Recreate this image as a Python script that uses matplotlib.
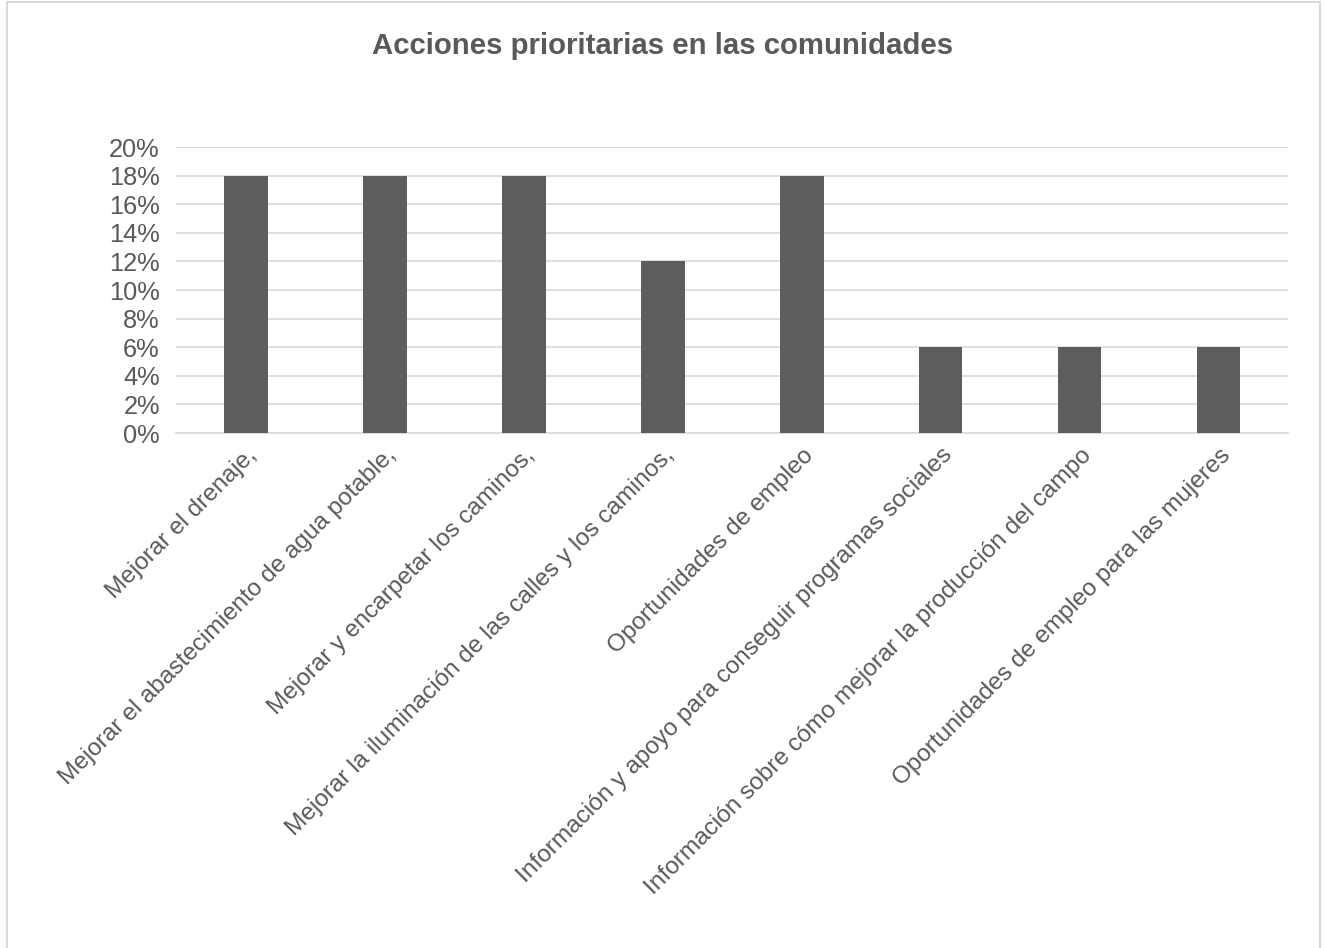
import matplotlib
matplotlib.use("Agg")
import matplotlib.pyplot as pyplot
from matplotlib.ticker import PercentFormatter
from matplotlib.lines import Line2D

categories = [
    "Mejorar el drenaje,",
    "Mejorar el abastecimiento de agua potable,",
    "Mejorar y encarpetar los caminos,",
    "Mejorar la iluminación de las calles y los caminos,",
    "Oportunidades de empleo",
    "Información y apoyo para conseguir programas sociales",
    "Información sobre cómo mejorar la producción del campo",
    "Oportunidades de empleo para las mujeres",
]
values = [0.18, 0.18, 0.18, 0.12, 0.18, 0.06, 0.06, 0.06]
yticks = [0.00, 0.02, 0.04, 0.06, 0.08, 0.10, 0.12, 0.14, 0.16, 0.18, 0.20]

text_color = "#595959"
pyplot.rcParams["font.family"] = ["Liberation Sans", "DejaVu Sans"]

fig = pyplot.figure(figsize=(13.25, 9.48), dpi=100)
ax = fig.add_axes([0.1332, 0.5432, 0.8392, 0.3017])

x = list(range(len(categories)))
ax.bar(x, values, width=0.31, color="#5d5d5d", zorder=3)

ax.set_xlim(-0.5, len(categories) - 0.5)
ax.set_ylim(0, 0.20)
ax.set_yticks(yticks)
ax.yaxis.set_major_formatter(PercentFormatter(xmax=1, decimals=0))
ax.grid(True, axis="y", color="#d9d9d9", linewidth=1.2, zorder=0)
for s in ["top", "right", "left"]:
    ax.spines[s].set_visible(False)
ax.spines["bottom"].set_color("#d9d9d9")
ax.spines["bottom"].set_linewidth(1.2)

ax.set_xticks(x)
ax.set_xticklabels(categories, rotation=45, ha="right", rotation_mode="anchor",
                   fontsize=17.6, color=text_color)
ax.tick_params(axis="x", length=0, pad=8)
ax.tick_params(axis="y", length=0, pad=12, labelsize=18.3, labelcolor=text_color)

fig.text(0.5, 0.951, "Acciones prioritarias en las comunidades",
         ha="center", va="center", fontsize=21.2, fontweight="bold", color=text_color)

# chart border
border = dict(color="#d9d9d9", linewidth=1.5, transform=fig.transFigure)
fig.add_artist(Line2D([7 / 1325, 7 / 1325], [0, 1 - 2 / 948], **border))
fig.add_artist(Line2D([7 / 1325, 1320 / 1325], [1 - 2 / 948, 1 - 2 / 948], **border))
fig.add_artist(Line2D([1320 / 1325, 1320 / 1325], [0, 1 - 2 / 948], **border))

fig.savefig("out.png", dpi=100)
